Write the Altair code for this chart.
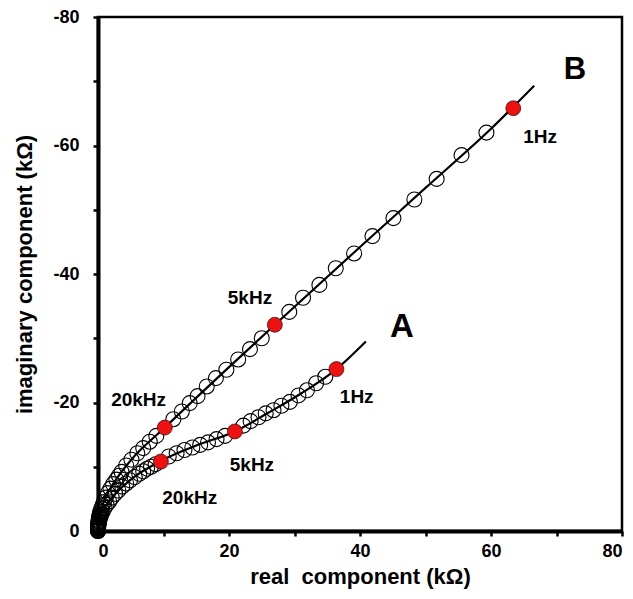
import altair as alt
import pandas as pd

# ---- Data (kOhm) ----
# Series A: measured impedance (open circles)
a_x = [0.0, 0.0, 0.0, 0.01, 0.01, 0.02, 0.03, 0.05, 0.07, 0.1, 0.15, 0.2, 0.3, 0.4, 0.5, 0.7, 1.0, 1.3, 1.7, 2.1, 2.6, 3.1, 3.7, 4.3, 4.9,
       5.6, 6.3, 6.9, 7.5, 8.1, 8.8,
       10.8, 12.0, 13.2, 14.4, 15.6, 16.8, 18.1, 19.4,
       22.2, 23.3, 24.5, 25.6, 26.8, 28.0, 29.3, 30.6, 31.9, 33.3, 34.7]
a_y = [0.0, -0.1, -0.2, -0.3, -0.4, -0.55, -0.7, -0.85, -1.0, -1.2, -1.45, -1.7, -2.0, -2.3, -2.6, -3.0, -3.6, -4.1, -4.6, -5.2, -5.8, -6.3, -6.9, -7.4, -7.9,
       -8.4, -8.9, -9.3, -9.7, -10.0, -10.4,
       -11.6, -12.1, -12.6, -13.0, -13.4, -13.8, -14.3, -14.8,
       -16.4, -17.1, -17.7, -18.3, -18.8, -19.5, -20.1, -21.1, -21.9, -23.0, -24.0]

# Series B: measured impedance (open circles)
b_x = [0.0, 0.0, 0.0, 0.0, 0.01, 0.02, 0.03, 0.05, 0.07, 0.1, 0.15, 0.2, 0.25, 0.35, 0.5, 0.7, 0.9, 1.2, 1.5, 1.9, 2.3, 2.8, 3.2, 3.6,
       4.3, 5.1, 6.0, 6.9, 7.9, 8.9,
       11.5, 12.8, 14.0, 15.2, 16.6, 18.0, 19.6, 21.4, 23.2, 25.0,
       29.2, 31.3, 33.8, 36.3, 39.1, 41.9, 45.1, 48.3, 51.7, 55.5, 59.3]
b_y = [0.0, -0.15, -0.3, -0.45, -0.6, -0.8, -1.0, -1.2, -1.45, -1.7, -2.0, -2.3, -2.6, -3.0, -3.5, -4.0, -4.5, -5.2, -5.9, -6.6, -7.3, -8.0, -8.6, -9.2,
       -10.2, -11.1, -12.1, -12.9, -13.9, -14.8,
       -17.4, -18.6, -19.9, -21.0, -22.5, -23.8, -25.1, -26.7, -28.3, -30.0,
       -34.1, -36.3, -38.3, -40.9, -43.2, -45.9, -48.7, -51.6, -54.8, -58.5, -62.0]

# Marked frequencies (red): 20kHz, 5kHz, 1Hz
a_red_x = [9.6, 20.9, 36.4]
a_red_y = [-10.8, -15.5, -25.2]
b_red_x = [10.2, 27.0, 63.4]
b_red_y = [-16.1, -32.1, -65.8]

# Fitted curves
a_fit_x = [0.0, 0.3, 1.0, 2.5, 5.0, 9.6, 15.0, 20.9, 26.0, 31.0, 36.4, 40.9]
a_fit_y = [0.0, -2.0, -3.6, -5.6, -8.0, -10.9, -13.3, -15.5, -18.4, -21.4, -25.2, -29.5]
b_fit_x = [0.0, 0.3, 1.0, 2.5, 5.0, 10.2, 20.0, 27.0, 40.0, 50.0, 60.0, 66.6]
b_fit_y = [0.0, -2.5, -4.8, -7.6, -11.0, -16.1, -25.5, -32.1, -44.2, -53.4, -62.6, -69.3]

# Annotations
label_text = ["B", "A", "1Hz", "1Hz", "5kHz", "5kHz", "20kHz", "20kHz"]
label_x = [72.8, 46.4, 67.5, 39.5, 23.2, 23.5, 6.2, 14.0]
label_y = [-71.8, -31.8, -61.4, -20.9, -36.2, -10.3, -20.4, -5.1]
label_size = [31, 33, 19, 19, 19, 19, 19, 19]

FONT = "Liberation Sans"

open_df = pd.concat([
    pd.DataFrame({"x": a_x, "y": a_y, "s": "A"}),
    pd.DataFrame({"x": b_x, "y": b_y, "s": "B"}),
])
red_df = pd.concat([
    pd.DataFrame({"x": a_red_x, "y": a_red_y, "s": "A"}),
    pd.DataFrame({"x": b_red_x, "y": b_red_y, "s": "B"}),
])
fit_df = pd.concat([
    pd.DataFrame({"x": a_fit_x, "y": a_fit_y, "s": "A"}),
    pd.DataFrame({"x": b_fit_x, "y": b_fit_y, "s": "B"}),
])
lab_df = pd.DataFrame({"x": label_x, "y": label_y, "t": label_text, "size": label_size})

xscale = alt.Scale(domain=[0, 80], nice=False, zero=False)
yscale = alt.Scale(domain=[0, -80], nice=False, zero=False)

xaxis = alt.Axis(
    values=list(range(0, 81, 5)),
    labelExpr="datum.value % 20 == 0 ? datum.label : ''",
    title="real\u00a0 component (k\u03a9)",
    titleX=262, titleY=52, titleAlign="center", titleBaseline="alphabetic",
    grid=False, domainWidth=4, domainColor="black", labelPadding=6,
)
yaxis = alt.Axis(
    values=list(range(0, -81, -5)),
    labelExpr="datum.value % 20 == 0 ? (datum.value == 0 ? '0' : '-' + abs(datum.value)) : ''",
    title="imaginary component (k\u03a9)",
    titleX=-74, titleY=257, titleAlign="center", titleBaseline="middle", titleAngle=-90,
    grid=False, domainWidth=4, domainColor="black", labelPadding=14,
)

X = alt.X("x:Q", scale=xscale, axis=xaxis)
Y = alt.Y("y:Q", scale=yscale, axis=yaxis)

circles = alt.Chart(open_df).mark_point(
    shape="circle", size=225, filled=False, stroke="black", strokeWidth=1.1, opacity=1
).encode(x=X, y=Y)

lines = alt.Chart(fit_df).mark_line(
    color="black", strokeWidth=2.2, interpolate="monotone"
).encode(x=alt.X("x:Q", scale=xscale), y=alt.Y("y:Q", scale=yscale), detail="s:N")

reds = alt.Chart(red_df).mark_point(
    shape="circle", size=225, filled=True, fill="#ee1111", stroke="black", strokeWidth=0.6, opacity=1
).encode(x=alt.X("x:Q", scale=xscale), y=alt.Y("y:Q", scale=yscale))

labels = alt.Chart(lab_df).mark_text(
    font=FONT, fontWeight="bold", color="black", align="center", baseline="middle"
).encode(
    x=alt.X("x:Q", scale=xscale), y=alt.Y("y:Q", scale=yscale),
    text="t:N", size=alt.Size("size:Q", scale=None),
)

chart = alt.layer(circles, lines, reds, labels).properties(
    width=524, height=514,
    autosize=alt.AutoSizeParams(type="none"),
    padding={"left": 90, "top": 9, "right": 3, "bottom": 60},
).configure_view(
    stroke="black", strokeWidth=2.5
).configure_axis(
    domainColor="black", domainWidth=4,
    tickColor="black", tickWidth=2.5, tickSize=5,
    labelFont=FONT, labelFontWeight="bold", labelFontSize=18, labelColor="black",
    titleFont=FONT, titleFontWeight="bold", titleFontSize=22, titleColor="black",
)

chart.save("out.html", embed_options={"renderer": "svg", "actions": False})
